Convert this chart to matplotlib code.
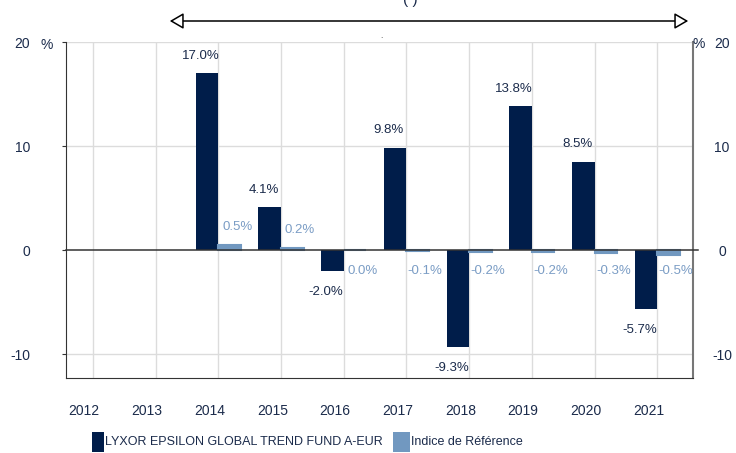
import matplotlib
matplotlib.use("Agg")
import matplotlib.pyplot as plt
import numpy as np

plt.rcParams["font.family"] = ["Liberation Sans", "DejaVu Sans"]

YEARS = ["2012", "2013", "2014", "2015", "2016", "2017", "2018", "2019", "2020", "2021"]
FUND = [None, None, 17.0, 4.1, -2.0, 9.8, -9.3, 13.8, 8.5, -5.7]
REF = [None, None, 0.5, 0.2, 0.0, -0.1, -0.2, -0.2, -0.3, -0.5]
YTICKS = [-10, 0, 10, 20]
FUND_LABEL = "LYXOR EPSILON GLOBAL TREND FUND A-EUR"
REF_LABEL = "Indice de Référence"

COL_FUND = "#001d4a"
COL_REF = "#7198c0"
COL_TXT = "#1b2b4b"
COL_REFTXT = "#7b9dc5"
COL_GRID = "#dcdcdc"

fig = plt.figure(figsize=(7.36, 4.53), dpi=100)
ax = fig.add_axes([66 / 736, 1 - 378 / 453, (693 - 66) / 736, (378 - 42) / 453])

x = np.arange(len(YEARS))
w = 0.36
fx = [i for i, v in zip(x, FUND) if v is not None]
fv = [v for v in FUND if v is not None]
rx = [i for i, v in zip(x, REF) if v is not None]
rv = [v for v in REF if v is not None]

ax.bar(np.array(fx) - w / 2, fv, width=w, color=COL_FUND, zorder=3)
ax.bar(np.array(rx) + w / 2, rv, width=w, color=COL_REF, edgecolor=COL_REF,
       linewidth=1.5, zorder=3)

ax.set_xlim(-0.43, 9.57)
ax.set_ylim(-12.3, 20)

# value labels
for i, v in zip(fx, fv):
    off = 1.7 if v >= 0 else -2.0
    ax.text(i - w / 2 - 0.1, v + off, f"{v:.1f}%", ha="center", va="center",
            fontsize=9.5, color=COL_TXT, zorder=4)
for i, v in zip(rx, rv):
    yy = v + 1.7 if v > 0 else -2.0
    ax.text(i + w / 2 + 0.12, yy, f"{v:.1f}%", ha="center", va="center",
            fontsize=9.5, color=COL_REFTXT, zorder=4)

# grid
for i in x:
    ax.axvline(i, color=COL_GRID, linewidth=1, zorder=1)
for t in YTICKS:
    if t != 0:
        ax.axhline(t, color=COL_GRID, linewidth=1, zorder=1)
ax.plot([-0.43, 9.65], [0, 0], color="#333333", linewidth=1.1, zorder=4,
        clip_on=False)

ax.spines["top"].set_visible(False)
ax.spines["left"].set_color("#333333")
ax.spines["bottom"].set_color("#333333")
ax.spines["right"].set_color("#777777")
ax.spines["right"].set_linewidth(1.5)

ax.set_yticks(YTICKS)
ax.set_yticklabels([str(t) for t in YTICKS])
ax.tick_params(axis="y", labelsize=10, colors=COL_TXT, length=3, color="#333333",
               right=False, pad=23)
ax.set_xticks(x - 0.14)
ax.set_xticklabels(YEARS)
ax.tick_params(axis="x", labelsize=10, colors=COL_TXT, length=0, pad=19)

# right-hand scale
ax2 = ax.twinx()
ax2.set_ylim(ax.get_ylim())
ax2.set_yticks(YTICKS)
ax2.set_yticklabels([str(t) for t in YTICKS])
ax2.tick_params(axis="y", labelsize=10, colors=COL_TXT, length=0, pad=21)
for lab in ax2.get_yticklabels():
    lab.set_horizontalalignment("center")
for s in ax2.spines.values():
    s.set_visible(False)

fig.text(47 / 736, 1 - 45 / 453, "%", fontsize=10, color=COL_TXT, ha="center", va="center")
fig.text(699 / 736, 1 - 44 / 453, "%", fontsize=10, color=COL_TXT, ha="center", va="center")

# top arrow
fig.patches.append(matplotlib.patches.FancyArrowPatch(
    (167 / 736, 1 - 21 / 453), (691 / 736, 1 - 21 / 453),
    transform=fig.transFigure, arrowstyle="<|-|>,head_length=0.6,head_width=0.35",
    mutation_scale=14, facecolor="white", edgecolor="black", linewidth=1.1))
fig.text(410 / 736, 1 - 0 / 453, "( )", fontsize=11, color=COL_TXT, ha="center", va="center")
fig.text(381 / 736, 1 - 36 / 453, ".", fontsize=6, color="#333333", ha="center", va="center")

# legend (the original uses a condensed face; shrink to keep the same width)
fig.patches.append(matplotlib.patches.Rectangle(
    (92 / 736, 1 - 452 / 453), 12 / 736, 20 / 453, transform=fig.transFigure,
    facecolor=COL_FUND, edgecolor="none"))
t1 = fig.text(105 / 736, 1 - 442 / 453, FUND_LABEL, fontsize=12,
              color=COL_TXT, va="center")
fig.patches.append(matplotlib.patches.Rectangle(
    (393 / 736, 1 - 452 / 453), 17 / 736, 20 / 453, transform=fig.transFigure,
    facecolor=COL_REF, edgecolor="none"))
t2 = fig.text(411 / 736, 1 - 442 / 453, REF_LABEL, fontsize=12,
              color=COL_TXT, va="center")

renderer = fig.canvas.get_renderer()
fs = 12 * 278 / t1.get_window_extent(renderer).width
t1.set_fontsize(fs)
t2.set_fontsize(fs)

fig.savefig("out.png", dpi=100)
